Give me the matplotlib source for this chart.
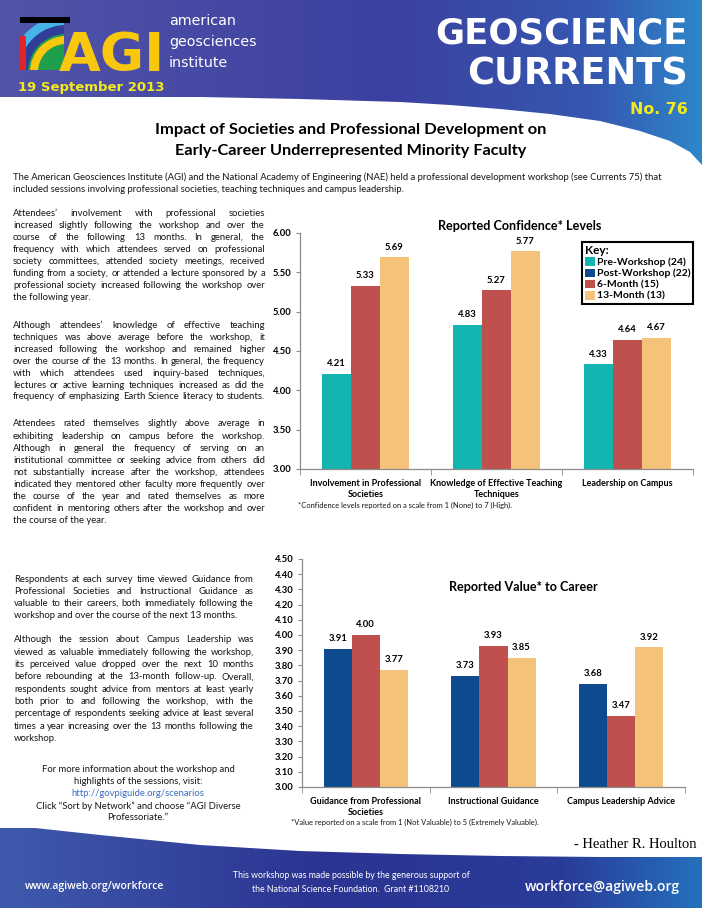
"""
Geoscience Currents No. 76 - recreated page with two grouped bar charts.
"""

import numpy as np
import matplotlib
matplotlib.use("Agg")
import matplotlib.pyplot as plt
from matplotlib.patches import Polygon, Patch, Rectangle, Wedge

W, H = 702, 908

# ─── data ─────────────────────────────────────────────────────────────────────
conf_cats = ["Involvement in Professional\nSocieties",
             "Knowledge of Effective Teaching\nTechniques",
             "Leadership on Campus"]
conf_pre = [4.21, 4.83, 4.33]
conf_6m = [5.33, 5.27, 4.64]
conf_13m = [5.69, 5.77, 4.67]
conf_ticks = [3.0, 3.5, 4.0, 4.5, 5.0, 5.5, 6.0]

value_cats = ["Guidance from Professional\nSocieties",
              "Instructional Guidance",
              "Campus Leadership Advice"]
value_post = [3.91, 3.73, 3.68]
value_6m = [4.00, 3.93, 3.47]
value_13m = [3.77, 3.85, 3.92]
value_ticks = [3.0, 3.1, 3.2, 3.3, 3.4, 3.5, 3.6, 3.7, 3.8, 3.9, 4.0, 4.1, 4.2, 4.3, 4.4, 4.5]

key_labels = ["Pre-Workshop (24)", "Post-Workshop (22)", "6-Month (15)", "13-Month (13)"]

TEAL, NAVY, RED, TAN = "#12B5AF", "#0D4B8E", "#C0504D", "#F5C27A"
BODY = "Lato"
INK = "#161616"

para1 = ["Attendees\u2019 involvement with professional societies",
         "increased slightly following the workshop and over the",
         "course of the following 13 months.  In general, the",
         "frequency with which attendees served on professional",
         "society committees, attended society meetings, received",
         "funding from a society, or attended a lecture sponsored by a",
         "professional society increased following the workshop over",
         "the following year."]
para2 = ["Although attendees\u2019 knowledge of effective teaching",
         "techniques was above average before the workshop, it",
         "increased following the workshop and remained higher",
         "over the course of the 13 months. In general, the frequency",
         "with which attendees used inquiry-based techniques,",
         "lectures or active learning techniques increased as did the",
         "frequency of emphasizing Earth Science literacy to students."]
para3 = ["Attendees rated themselves slightly above average in",
         "exhibiting leadership on campus before the workshop.",
         "Although in general the frequency of serving on an",
         "institutional committee or seeking advice from others did",
         "not substantially increase after the workshop, attendees",
         "indicated they mentored other faculty more frequently over",
         "the course of the year and rated themselves as more",
         "confident in mentoring others after the workshop and over",
         "the course of the year."]
para4 = ["Respondents at each survey time viewed Guidance from",
         "Professional Societies and Instructional Guidance as",
         "valuable to their careers, both immediately following the",
         "workshop and over the course of the next 13 months."]
para5 = ["Although the session about Campus Leadership was",
         "viewed as valuable immediately following the workshop,",
         "its perceived value dropped over the next 10 months",
         "before rebounding at the 13-month follow-up. Overall,",
         "respondents sought advice from mentors at least yearly",
         "both prior to and following the workshop, with the",
         "percentage of respondents seeking advice at least several",
         "times a year increasing over the 13 months following the",
         "workshop."]
more_info = ["For more information about the workshop and",
             "highlights of the sessions, visit:",
             "http://govpiguide.org/scenarios",
             "Click \u201cSort by Network\u201d and choose \u201cAGI Diverse",
             "Professoriate.\u201d"]


fig = plt.figure(figsize=(W / 100, H / 100), dpi=100)
bg = fig.add_axes([0, 0, 1, 1])
bg.set_xlim(0, W)
bg.set_ylim(H, 0)
bg.axis("off")
renderer = fig.canvas.get_renderer()


def width_of(t):
    return t.get_window_extent(renderer).width


def fit_text(x, y, s, width, **kw):
    t = bg.text(x, y, s, fontsize=10, **kw)
    t.set_fontsize(10 * width / width_of(t))
    return t


def justify(lines, x0, x1, y0, step, fs, justify_last=False):
    for i, line in enumerate(lines):
        y = y0 + i * step
        last = i == len(lines) - 1
        if last and not justify_last:
            bg.text(x0, y, line, fontsize=fs, family=BODY, color=INK, va="center")
            continue
        words = line.split()
        texts = [bg.text(0, y, w, fontsize=fs, family=BODY, color=INK, va="center") for w in words]
        widths = [width_of(t) for t in texts]
        gap = (x1 - x0 - sum(widths)) / (len(words) - 1)
        x = x0
        for t, w in zip(texts, widths):
            t.set_x(x)
            x += w + gap


def gradient_band(pts, stops):
    xs = np.linspace(0, 1, 256)
    cols = np.array([[int(c[i:i + 2], 16) / 255 for i in (1, 3, 5)] for _, c in stops])
    pos = [p for p, _ in stops]
    img = np.stack([np.interp(xs, pos, cols[:, k]) for k in range(3)], axis=-1)[None, :, :]
    poly = Polygon(pts, closed=True, facecolor="none", edgecolor="none")
    bg.add_patch(poly)
    ymin, ymax = min(p[1] for p in pts), max(p[1] for p in pts)
    im = bg.imshow(img, extent=(0, W, ymax, ymin), aspect="auto", zorder=0)
    im.set_clip_path(poly)


# ─── header / footer bands ────────────────────────────────────────────────────
hx = [702, 690, 670, 640, 600, 550, 500, 450, 400, 300, 200, 100, 0]
hy = [165, 152, 141, 131, 121, 114, 109, 105, 102, 99, 97, 97, 97]
gradient_band([(0, 0), (W, 0)] + list(zip(hx, hy)),
              [(0.0, "#5254A8"), (0.55, "#3C40A0"), (0.85, "#3558B0"), (1.0, "#2E86CA")])

fx = [0, 35, 100, 150, 200, 300, 400, 500, 600, 702]
fy = [828, 828, 835, 840, 845, 851, 854, 856, 857, 857]
gradient_band(list(zip(fx, fy)) + [(W, H), (0, H)],
              [(0.0, "#3F5AAC"), (0.45, "#2C3492"), (0.8, "#2A3B98"), (1.0, "#2470BC")])

# logo mark
clip = Rectangle((20, 17), 44, 53, transform=bg.transData)
for r, c in [(56, "#46B4E6"), (47, "#2F3E98"), (38, "#1F9E4C")]:
    wdg = Wedge((66, 72), r, 180, 270, facecolor=c, edgecolor="none")
    bg.add_patch(wdg)
    wdg.set_clip_path(clip)
bg.add_patch(Rectangle((20, 17), 50, 6, facecolor="black"))
bg.add_patch(Rectangle((20, 36), 6, 34, facecolor="#E0262B"))
arc = Wedge((66, 72), 36, 180, 270, width=8, facecolor="#F9C80E", edgecolor="none")
bg.add_patch(arc)
arc.set_clip_path(clip)
fit_text(59, 71, "AGI", 106, family=["Liberation Sans Narrow", "DejaVu Sans"],
         weight="bold", color="#F9C80E", va="baseline")
for i, s in enumerate(["american", "geosciences", "institute"]):
    bg.text(169, 21 + 21 * i, s, fontsize=10.3, color="white", va="center", family="DejaVu Sans")
fit_text(18, 88, "19 September 2013", 147, color="#F3EA1E", weight="bold",
         va="center", family="DejaVu Sans")

fit_text(688, 34, "GEOSCIENCE", 253, ha="right", va="center", color="white",
         weight="bold", family="DejaVu Sans")
fit_text(688, 74, "CURRENTS", 222, ha="right", va="center", color="white",
         weight="bold", family="DejaVu Sans")
fit_text(688, 110, "No. 76", 58, color="#F3EA1E", weight="bold",
         ha="right", va="center", family="DejaVu Sans")

# ─── title + intro ────────────────────────────────────────────────────────────
fit_text(351, 130, "Impact of Societies and Professional Development on", 392,
         ha="center", va="center", weight="bold", family=BODY, color="black")
fit_text(351, 151, "Early-Career Underrepresented Minority Faculty", 354,
         ha="center", va="center", weight="bold", family=BODY, color="black")
t = fit_text(13, 177, "The American Geosciences Institute (AGI) and the National Academy of "
             "Engineering (NAE) held a professional development workshop (see Currents 75) that",
             650, va="center", family=BODY, color=INK)
bg.text(13, 190, "included sessions involving professional societies, teaching techniques "
        "and campus leadership.", fontsize=t.get_fontsize(), va="center", family=BODY, color=INK)

# ─── body columns ─────────────────────────────────────────────────────────────
probe = bg.text(0, 0, para2[-1], fontsize=10, family=BODY)
FS = 10 * 252 / width_of(probe)
probe.remove()

justify(para1, 13, 265, 213, 12.1, FS)
justify(para2, 13, 265, 326, 11.8, FS, justify_last=True)
justify(para3, 13, 265, 424, 12.1, FS)
justify(para4, 14, 254, 579, 12.0, FS)
justify(para5, 14, 254, 640, 12.3, FS)
for i, s in enumerate(more_info):
    bg.text(138, 770 + 12 * i, s, fontsize=FS, family=BODY, ha="center", va="center",
            color="#3A6CC6" if s.startswith("http") else INK)


# ─── charts ───────────────────────────────────────────────────────────────────
def bar_chart(rect, cats, series, ticks, title, title_xy, title_w):
    ax = fig.add_axes(rect)
    x = np.arange(len(cats))
    w = 0.22
    for k, (vals, col) in enumerate(series):
        bars = ax.bar(x + (k - 1) * w, vals, w, color=col, zorder=2)
        ax.bar_label(bars, fmt="%.2f", padding=4, fontsize=6.8, weight="bold", family=BODY)
    ax.set_xlim(-0.5, len(cats) - 0.5)
    ax.set_ylim(ticks[0], ticks[-1])
    ax.set_yticks(ticks)
    ax.set_yticklabels([f"{v:.2f}" for v in ticks], fontsize=6.8, weight="bold", family=BODY)
    ax.set_xticks(x)
    ax.set_xticklabels(cats, fontsize=6.5, weight="bold", family=BODY, linespacing=1.3)
    ax.set_xticks(np.arange(len(cats) + 1) - 0.5, minor=True)
    ax.tick_params(axis="x", which="major", length=0, pad=7)
    ax.tick_params(axis="x", which="minor", length=4, color="#8C8C8C", direction="out")
    ax.tick_params(axis="y", length=3, color="#8C8C8C", direction="out", pad=3)
    for side in ("top", "right"):
        ax.spines[side].set_visible(False)
    for side in ("left", "bottom"):
        ax.spines[side].set_color("#8C8C8C")
        ax.spines[side].set_linewidth(0.9)
    ax.patch.set_alpha(0)
    fit_text(title_xy[0], title_xy[1], title, title_w, ha="center", va="center",
             weight="bold", family=BODY, color="black")
    return ax


ax1 = bar_chart([300 / W, 1 - 469 / H, 393 / W, 236 / H], conf_cats,
                [(conf_pre, TEAL), (conf_6m, RED), (conf_13m, TAN)], conf_ticks,
                "Reported Confidence* Levels", (520, 226), 164)
fit_text(298, 505, "*Confidence levels reported on a scale from 1 (None) to 7 (High).", 212,
         va="center", family=BODY, color=INK)

handles = [Patch(facecolor=c, edgecolor="none") for c in (TEAL, NAVY, RED, TAN)]
leg = ax1.legend(handles, key_labels, title="Key:", loc="upper left",
                 bbox_to_anchor=(582 / W, 1 - 242 / H), bbox_transform=fig.transFigure,
                 frameon=True, fancybox=False, edgecolor="black", framealpha=1,
                 prop=dict(weight="bold", size=7.5, family=BODY),
                 title_fontproperties=dict(weight="bold", size=8.5, family=BODY),
                 alignment="left", handlelength=0.9, handleheight=0.9, handletextpad=0.2,
                 labelspacing=0.12, borderpad=0.3, borderaxespad=0)
leg.get_frame().set_linewidth(1.5)

ax2 = bar_chart([302 / W, 1 - 787 / H, 383 / W, 228 / H], value_cats,
                [(value_post, NAVY), (value_6m, RED), (value_13m, TAN)], value_ticks,
                "Reported Value* to Career", (523, 587), 150)
fit_text(291, 822, "*Value reported on a scale from 1 (Not Valuable) to 5 (Extremely Valuable).",
         246, va="center", family=BODY, color=INK)

# ─── signature + footer ───────────────────────────────────────────────────────
bg.text(697, 844, "- Heather R. Houlton", fontsize=10.5, family="Liberation Serif",
        ha="right", va="center", color="black")
fit_text(25, 887, "www.agiweb.org/workforce", 140, va="center", color="white",
         weight="semibold", family="Open Sans")
fit_text(680, 887, "workforce@agiweb.org", 156, ha="right", va="center", color="white",
         weight="semibold", family="Open Sans")
t = fit_text(351, 876, "This workshop was made possible by the generous support of", 238,
             ha="center", va="center", color="white", family=BODY)
bg.text(351, 889, "the National Science Foundation.  Grant #1108210", fontsize=t.get_fontsize(),
        ha="center", va="center", color="white", family=BODY)

fig.savefig("out.png", dpi=100)
